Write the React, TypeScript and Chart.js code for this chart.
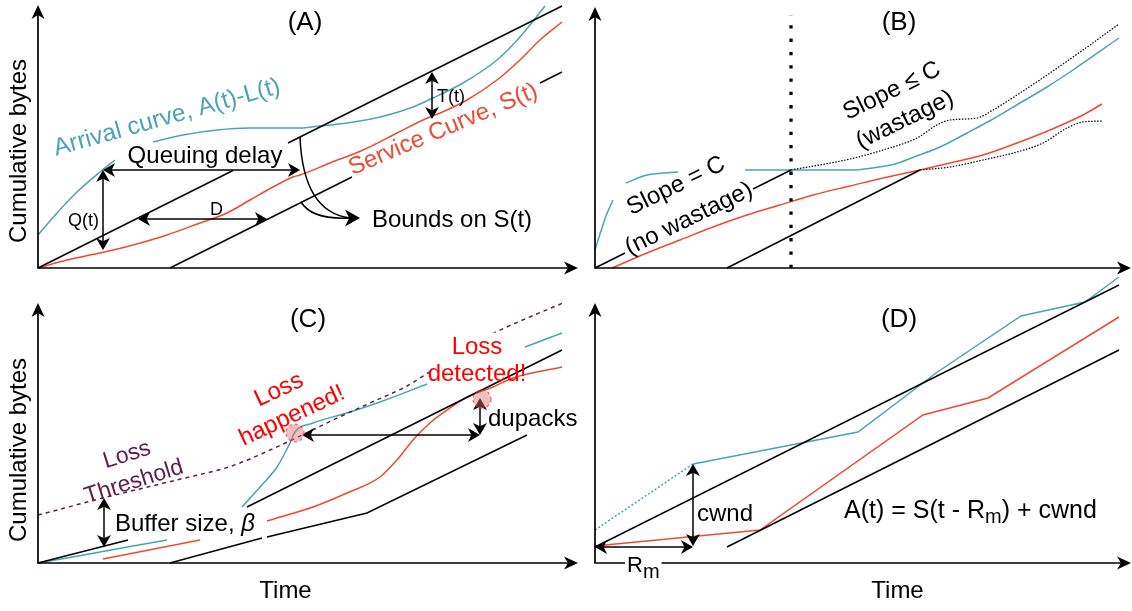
import React, { useEffect, useRef } from "react";
import { Chart, registerables } from "chart.js";
Chart.register(...registerables);

type Pt = [number, number] | null;

// Units: time / cumulative bytes, measured from each panel's origin.
// ---------- Panel A ----------
const aArrival: Pt[] = [[0,33],[19,55],[39,76],[62,96],[77,108],null,[115,126],[145,133],[179,138],[212,140],[262,140],[282,142],[309,145],[342,151],[375,161],[395,170],[425,185],[459,208],[482,231],[507,262]];
const aService: Pt[] = [[0,0],[29,8],[62,15],[95,23],[129,33],[162,45],[189,55],[212,68],[235,81],[255,91],[262,93],[292,105],[325,118],[359,135],[385,148],[409,158],[429,168],[459,188],[482,208],[502,228],[524,246]];
const aUpperBound: Pt[] = [[0,0],[195,97.5],null,[250,125],[524,262]];
const aLowerBound: Pt[] = [[132,0],[314,91],null,[502,185],[524,196]];

// ---------- Panel B ----------
const bArrival: Pt[] = [[0,18],[5,34],[11,52],[18,68],null,[31,85],[52,93],[83,96],null,[150,98],[255,98],[277,100],[300,104],[319,111],[345,121],[372,135],[398,149],[425,165],[452,181],[478,198],[524,230]];
const bService: Pt[] = [[17,0],[52,15],[85,28],[118,41],[152,53],[185,63],[218,73],[255,82],[288,90],[325,98],[355,105],[388,113],[422,125],[455,138],[488,153],[507,164]];
const bBoundNoWaste: Pt[] = [[0,0],[30,15],null,[158,79],[196,98]];
const bBoundLower: Pt[] = [[132,0],[325,98]];
const bUpperDotted: Pt[] = [[196,98],[255,109],[288,118],[322,130],[342,143],[355,148],[382,150],[398,158],[422,173],[455,195],[488,218],[524,244]];
const bLowerDotted: Pt[] = [[325,98],[355,101],[388,108],[422,116],[448,125],[472,140],[488,146],[508,147]];
const bCutoff: Pt[] = [[196,0],[196,253]];

// ---------- Panel C ----------
const cThreshold: Pt[] = [[0,48],[73,67],[147,85],[184,94],[202,100],[221,108],[258,125],[295,143],[332,160],[369,177],[393,192],null,[447,226],[480,241],[525,260]];
const cArrival: Pt[] = [[0,0],[29,5],[62,11],[95,17],[129,23],null,[204,56],[222,76],[239,96],[252,120],[257,131],[275,140],[309,150],[342,161],[389,179],null,[487,216],[524,230]];
const cService: Pt[] = [[65,4],[162,23],null,[229,42],[242,46],[275,56],[309,70],[342,86],[359,103],[375,123],[392,140],[409,153],[429,166],[455,176],[475,185],[524,196]];
const cUpperBound: Pt[] = [[0,0],[90,23],null,[209,56],[524,213]];
const cLowerBound: Pt[] = [[132,0],[224,25],null,[229,26],[329,50],[489,128]];

// ---------- Panel D ----------
const dUpperBound: Pt[] = [[0,16],[524,278]];
const dLowerBound: Pt[] = [[132,16],[524,213]];
const dService: Pt[] = [[0,17],[165,33],[328,148],[393,165],[524,246]];
const dArrivalFirstRtt: Pt[] = [[0,33],[98,99]];
const dArrival: Pt[] = [[98,99],[263,131],[341,190],[426,247],[490,261],[524,286]];

const BLUE = "#4BA3B8";
const RED = "#EE4A33";
const LOSS_RED = "#FF0000";
const PURPLE = "#5E1C4F";
const FONT = '"Liberation Sans", Arial, Helvetica, sans-serif';

const toXY = (pts: Pt[]) =>
  pts.map((p, i) => (p ? { x: p[0], y: p[1] } : { x: (pts[i - 1] as [number, number])[0], y: null }));

const line = (pts: Pt[], color: string, extra: any = {}) => ({
  data: toXY(pts),
  borderColor: color,
  borderWidth: 1.5,
  pointRadius: 0,
  fill: false,
  tension: 0,
  ...extra,
});
const curve = (pts: Pt[], color: string, extra: any = {}) =>
  line(pts, color, { cubicInterpolationMode: "monotone", ...extra });

type Part = { t: string; size?: number; italic?: boolean; dy?: number };
type Txt = { text?: string; parts?: Part[]; x: number; y: number; size?: number; color?: string; rot?: number; align?: "left" | "center"; bg?: boolean };
type XY = [number, number];

interface Panel {
  left: number; top: number; w: number; h: number; ox: number; oy: number;
  xTip: number; yTip: number;
  datasets: any[];
  texts: Txt[];
  arrows: { from: XY; to: XY }[];
  curves?: { from: XY; ctrl: XY; to: XY }[];
  heads?: { at: XY; dir: XY; len?: number; half?: number }[];
  circles?: XY[];
}

const panels: Panel[] = [
  {
    left: 0, top: 0, w: 580, h: 300, ox: 38, oy: 268, xTip: 540, yTip: 263,
    datasets: [
      line(aUpperBound, "#000"),
      line(aLowerBound, "#000"),
      curve(aService, RED),
      curve(aArrival, BLUE),
    ],
    texts: [
      { text: "(A)", x: 267, y: 245.5, size: 26 },
      { text: "Cumulative bytes", x: -18.5, y: 117, size: 24, rot: -90 },
      { text: "Queuing delay", x: 167, y: 112, size: 24 },
      { text: "Q(t)", x: 45.5, y: 47, size: 18 },
      { text: "D", x: 178.5, y: 58, size: 18 },
      { text: "T(t)", x: 399, y: 170.5, size: 18, align: "left" },
      { text: "Bounds on S(t)", x: 334, y: 48, size: 24, align: "left" },
      { text: "Arrival curve, A(t)-L(t)", x: 129, y: 150.3, size: 24.5, rot: -15.6, color: BLUE },
      { text: "Service Curve, S(t)", x: 405.2, y: 138.4, size: 24, rot: -22.9, color: RED },
    ],
    arrows: [
      { from: [65, 98], to: [262, 98] },
      { from: [65, 98], to: [65, 18] },
      { from: [100, 49], to: [229, 49] },
      { from: [394, 196], to: [394, 149] },
    ],
    curves: [
      { from: [262, 131], ctrl: [265, 56], to: [312, 50] },
      { from: [263, 66], ctrl: [274, 48], to: [312, 50] },
    ],
    heads: [{ at: [322, 50], dir: [1, 0], len: 15, half: 8.5 }],
  },
  {
    left: 580, top: 0, w: 552, h: 300, ox: 595, oy: 268, xTip: 536, yTip: 261,
    datasets: [
      line(bCutoff, "#000", { borderWidth: 3.3, borderDash: [3.3, 10], borderCapStyle: "butt" }),
      line(bBoundNoWaste, "#000"),
      line(bBoundLower, "#000"),
      curve(bUpperDotted, "#000", { borderWidth: 1.2, borderDash: [1.5, 1.5] }),
      curve(bLowerDotted, "#000", { borderWidth: 1.2, borderDash: [1.5, 1.5] }),
      curve(bService, RED),
      curve(bArrival, BLUE),
    ],
    texts: [
      { text: "(B)", x: 304, y: 245.5, size: 26 },
      { text: "Slope = C", x: 81, y: 82, size: 24, rot: -26 },
      { text: "(no wastage)", x: 94, y: 49, size: 24, rot: -26 },
      { text: "Slope \u2264 C", x: 297, y: 177, size: 24, rot: -26 },
      { text: "(wastage)", x: 310, y: 148, size: 24, rot: -26 },
    ],
    arrows: [],
  },
  {
    left: 0, top: 290, w: 580, h: 321, ox: 38, oy: 563, xTip: 540, yTip: 260,
    datasets: [
      line(cThreshold, PURPLE, { borderDash: [4, 4], cubicInterpolationMode: "monotone" }),
      line(cUpperBound, "#000"),
      line(cLowerBound, "#000"),
      curve(cService, RED),
      curve(cArrival, BLUE),
    ],
    texts: [
      { text: "(C)", x: 270, y: 243, size: 26 },
      { text: "Cumulative bytes", x: -18.5, y: 113, size: 24, rot: -90 },
      { text: "Time", x: 247.5, y: -28.5, size: 24 },
      { parts: [{ t: "Buffer size, " }, { t: "\u03B2", italic: true }], x: 77, y: 38.5, size: 24, align: "left" },
      { text: "Loss", x: 89, y: 108, size: 23, rot: -17.4, color: PURPLE },
      { text: "Threshold", x: 96, y: 81, size: 23, rot: -17.4, color: PURPLE },
      { text: "Loss", x: 241, y: 173, size: 24, rot: -25, color: LOSS_RED },
      { text: "happened!", x: 254, y: 147, size: 24, rot: -25, color: LOSS_RED },
      { text: "Loss", x: 439, y: 215.5, size: 24, color: LOSS_RED, bg: true },
      { text: "detected!", x: 439, y: 189, size: 24, color: LOSS_RED },
      { text: "dupacks", x: 450, y: 144, size: 24, align: "left" },
    ],
    arrows: [
      { from: [66, 65], to: [66, 16] },
      { from: [264, 128], to: [442, 128] },
      { from: [442, 165], to: [442, 128] },
    ],
    circles: [[257, 130], [444, 164]],
  },
  {
    left: 580, top: 270, w: 552, h: 341, ox: 595, oy: 563, xTip: 536, yTip: 260,
    datasets: [
      line(dUpperBound, "#000"),
      line(dLowerBound, "#000"),
      line(dService, RED),
      line(dArrivalFirstRtt, BLUE, { borderDash: [2, 2] }),
      line(dArrival, BLUE),
    ],
    texts: [
      { text: "(D)", x: 304, y: 243, size: 26 },
      { text: "Time", x: 302.5, y: -28.5, size: 24 },
      { text: "cwnd", x: 102, y: 49, size: 24, align: "left" },
      { parts: [{ t: "R", size: 22 }, { t: "m", size: 20, dy: 7 }], x: 32, y: -2.5, align: "left", bg: true },
      { parts: [{ t: "A(t) = S(t - R" }, { t: "m", size: 20, dy: 6 }, { t: ") + cwnd" }], x: 249, y: 52, size: 25, align: "left" },
    ],
    arrows: [
      { from: [98, 99], to: [98, 17] },
      { from: [0, 16], to: [98, 16] },
    ],
  },
];

function drawHead(ctx: CanvasRenderingContext2D, tx: number, ty: number, dx: number, dy: number, len = 12, half = 6.5) {
  const n = Math.hypot(dx, dy) || 1;
  const ux = dx / n, uy = dy / n;
  const nx = -uy, ny = ux;
  const bx = tx - ux * len, by = ty - uy * len;
  ctx.beginPath();
  ctx.moveTo(tx, ty);
  ctx.lineTo(bx + nx * half, by + ny * half);
  ctx.lineTo(tx - ux * len * 0.72, ty - uy * len * 0.72);
  ctx.lineTo(bx - nx * half, by - ny * half);
  ctx.closePath();
  ctx.fill();
}

function fontStr(size: number, italic?: boolean) {
  return `${italic ? "italic " : ""}${size}px ${FONT}`;
}

function makePlugin(p: Panel) {
  return {
    id: "diagram",
    afterDatasetsDraw(chart: any) {
      const ctx: CanvasRenderingContext2D = chart.ctx;
      const X = (v: number) => chart.scales.x.getPixelForValue(v);
      const Y = (v: number) => chart.scales.y.getPixelForValue(v);
      ctx.save();
      ctx.fillStyle = "#000";
      ctx.strokeStyle = "#000";
      ctx.lineCap = "butt";
      // axes
      ctx.lineWidth = 1.7;
      ctx.beginPath();
      ctx.moveTo(X(0), Y(p.yTip) + 8);
      ctx.lineTo(X(0), Y(0));
      ctx.lineTo(X(p.xTip) - 8, Y(0));
      ctx.stroke();
      drawHead(ctx, X(0), Y(p.yTip), 0, -1, 14, 6.5);
      drawHead(ctx, X(p.xTip), Y(0), 1, 0, 14, 6.5);
      // straight double arrows
      ctx.lineWidth = 1.5;
      for (const a of p.arrows) {
        const x1 = X(a.from[0]), y1 = Y(a.from[1]), x2 = X(a.to[0]), y2 = Y(a.to[1]);
        const dx = x2 - x1, dy = y2 - y1, n = Math.hypot(dx, dy);
        const ux = dx / n, uy = dy / n;
        ctx.beginPath();
        ctx.moveTo(x1 + ux * 8, y1 + uy * 8);
        ctx.lineTo(x2 - ux * 8, y2 - uy * 8);
        ctx.stroke();
        drawHead(ctx, x2, y2, dx, dy, 12, 7);
        drawHead(ctx, x1, y1, -dx, -dy, 12, 7);
      }
      // curved arrows
      for (const c of p.curves ?? []) {
        ctx.beginPath();
        ctx.moveTo(X(c.from[0]), Y(c.from[1]));
        ctx.quadraticCurveTo(X(c.ctrl[0]), Y(c.ctrl[1]), X(c.to[0]), Y(c.to[1]));
        ctx.stroke();
      }
      for (const h of p.heads ?? []) {
        drawHead(ctx, X(h.at[0]), Y(h.at[1]), h.dir[0], h.dir[1], h.len ?? 12, h.half ?? 7);
      }
      // loss markers
      for (const c of p.circles ?? []) {
        ctx.beginPath();
        ctx.arc(X(c[0]), Y(c[1]), 9, 0, Math.PI * 2);
        ctx.fillStyle = "rgba(232, 110, 110, 0.45)";
        ctx.fill();
        ctx.setLineDash([3, 3]);
        ctx.strokeStyle = "rgba(230, 40, 40, 0.7)";
        ctx.lineWidth = 1.2;
        ctx.stroke();
        ctx.setLineDash([]);
      }
      // texts
      for (const t of p.texts) {
        const size = t.size ?? 23;
        const parts: Part[] = t.parts ?? [{ t: t.text ?? "" }];
        ctx.save();
        ctx.translate(X(t.x), Y(t.y));
        if (t.rot) ctx.rotate((t.rot * Math.PI) / 180);
        let total = 0;
        const widths = parts.map((pt) => {
          ctx.font = fontStr(pt.size ?? size, pt.italic);
          const w = ctx.measureText(pt.t).width;
          total += w;
          return w;
        });
        let x0 = t.align === "left" ? 0 : -total / 2;
        if (t.bg) {
          ctx.fillStyle = "#fff";
          ctx.fillRect(x0 - 2, -size * 0.62, total + 4, size * 1.3);
        }
        ctx.textBaseline = "middle";
        ctx.textAlign = "left";
        ctx.fillStyle = t.color ?? "#000";
        parts.forEach((pt, i) => {
          ctx.font = fontStr(pt.size ?? size, pt.italic);
          ctx.fillText(pt.t, x0, pt.dy ?? 0);
          x0 += widths[i];
        });
        ctx.restore();
      }
      ctx.restore();
    },
  };
}

function PanelChart({ panel }: { panel: Panel }) {
  const ref = useRef<HTMLCanvasElement>(null);
  useEffect(() => {
    const p = panel;
    const chart = new Chart(ref.current as HTMLCanvasElement, {
      type: "line",
      data: { datasets: p.datasets },
      options: {
        animation: false,
        responsive: false,
        events: [],
        devicePixelRatio: 1,
        layout: { padding: 0 },
        plugins: { legend: { display: false }, tooltip: { enabled: false } },
        scales: {
          x: { type: "linear", display: false, min: p.left - p.ox, max: p.left + p.w - p.ox },
          y: { type: "linear", display: false, min: p.oy - (p.top + p.h), max: p.oy - p.top },
        },
      } as any,
      plugins: [makePlugin(p)],
    });
    return () => chart.destroy();
  }, [panel]);
  return (
    <canvas
      ref={ref}
      width={panel.w}
      height={panel.h}
      style={{ position: "absolute", left: panel.left, top: panel.top, width: panel.w, height: panel.h }}
    />
  );
}

export default function App() {
  return (
    <div style={{ position: "absolute", left: 0, top: 0, width: 1132, height: 611, background: "#fff", overflow: "hidden" }}>
      {panels.map((p, i) => (
        <PanelChart key={i} panel={p} />
      ))}
    </div>
  );
}
